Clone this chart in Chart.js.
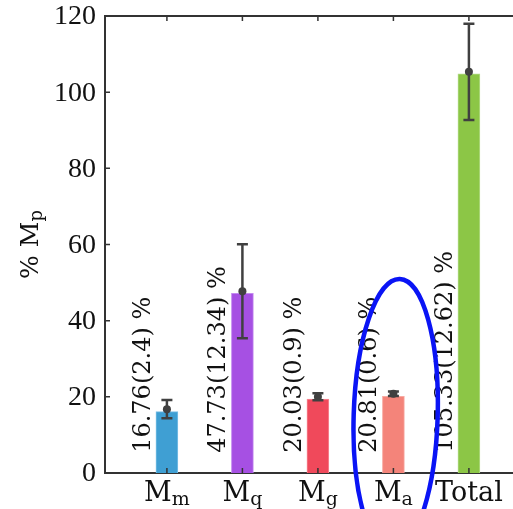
<!DOCTYPE html>
<html lang="en">
<head>
    <meta charset="UTF-8">
    <title>Mass fractions</title>
    <script src="https://cdn.jsdelivr.net/npm/chart.js"></script>
    <style>
        html, body { margin: 0; padding: 0; background: #fff; overflow: hidden; }
        #grafica { display: block; }
    </style>
</head>
<body>
    <canvas id="grafica" width="513" height="509"></canvas>
<script>

// categorias: [letra, subindice]
const categorias = [['M','m'], ['M','q'], ['M','g'], ['M','a'], ['Total','']];
const barras = [16.1, 47.2, 19.4, 20.1, 104.8];     // altura de cada barra
const medias = [16.76, 47.73, 20.03, 20.81, 105.33]; // punto del error
const errores = [2.4, 12.34, 0.9, 0.6, 12.62];
const etiquetas = ['16.76(2.4) %', '47.73(12.34) %', '20.03(0.9) %', '20.81(0.6) %', '105.33(12.62) %'];
const colores = ['#3f9fd3', '#a650e3', '#f0495b', '#f4847a', '#8cc646'];
const bordes = ['#7cc0e6', '#c48af0', '#f78a96', '#f8aaa2', '#b2db86'];
const ticksY = [0, 20, 40, 60, 80, 100, 120];

const fuente = "'DejaVu Serif', serif";
const fuenteNum = "'Liberation Serif', 'Times New Roman', serif";
const tinta = '#333';

const extras = {
    id: 'extras',
    afterDatasetsDraw(chart) {
        const ctx = chart.ctx;
        const x = chart.scales.x, y = chart.scales.y;
        const a = chart.chartArea;
        ctx.save();

        // borde de arriba
        ctx.strokeStyle = tinta;
        ctx.lineWidth = 2;
        ctx.beginPath();
        ctx.moveTo(a.left - 1, a.top);
        ctx.lineTo(a.right, a.top);
        ctx.stroke();

        // marcas hacia dentro
        ctx.lineWidth = 1.5;
        ctx.beginPath();
        for (const v of ticksY) {
            const py = y.getPixelForValue(v);
            ctx.moveTo(a.left, py);
            ctx.lineTo(a.left + 5, py);
        }
        categorias.forEach((c, i) => {
            const px = x.getPixelForValue(i);
            ctx.moveTo(px, a.bottom);
            ctx.lineTo(px, a.bottom - 5);
            ctx.moveTo(px, a.top);
            ctx.lineTo(px, a.top + 5);
        });
        ctx.stroke();

        // numeros del eje y
        ctx.fillStyle = '#111';
        ctx.font = '28px ' + fuenteNum;
        ctx.textAlign = 'right';
        ctx.textBaseline = 'middle';
        for (const v of ticksY) {
            ctx.fillText(String(v), a.left - 9, y.getPixelForValue(v) + 1);
        }

        // barras de error
        ctx.strokeStyle = '#404040';
        ctx.fillStyle = '#404040';
        ctx.lineWidth = 2.5;
        medias.forEach((m, i) => {
            const px = x.getPixelForValue(i);
            const top = y.getPixelForValue(m + errores[i]);
            const bot = y.getPixelForValue(m - errores[i]);
            ctx.beginPath();
            ctx.moveTo(px, top); ctx.lineTo(px, bot);
            ctx.moveTo(px - 5.5, top); ctx.lineTo(px + 5.5, top);
            ctx.moveTo(px - 5.5, bot); ctx.lineTo(px + 5.5, bot);
            ctx.stroke();
            ctx.beginPath();
            ctx.arc(px, y.getPixelForValue(m), 4, 0, Math.PI * 2);
            ctx.fill();
        });

        // textos girados
        ctx.fillStyle = '#111';
        ctx.font = '24px ' + fuente;
        ctx.textAlign = 'left';
        ctx.textBaseline = 'alphabetic';
        etiquetas.forEach((t, i) => {
            ctx.save();
            ctx.translate(x.getPixelForValue(i - 0.225), y.getPixelForValue(5.3));
            ctx.rotate(-Math.PI / 2);
            ctx.fillText(t, 0, 0);
            ctx.restore();
        });

        // etiquetas del eje x con subindice
        categorias.forEach((c, i) => {
            const px = x.getPixelForValue(i);
            ctx.font = '27px ' + fuente;
            const w1 = ctx.measureText(c[0]).width;
            ctx.font = '19px ' + fuente;
            const w2 = c[1] ? ctx.measureText(c[1]).width : 0;
            const x0 = px - (w1 + w2) / 2;
            ctx.font = '27px ' + fuente;
            ctx.fillText(c[0], x0, a.bottom + 28);
            if (c[1]) {
                ctx.font = '19px ' + fuente;
                ctx.fillText(c[1], x0 + w1, a.bottom + 32);
            }
        });

        // titulo del eje y
        ctx.save();
        ctx.translate(38, (a.top + a.bottom) / 2);
        ctx.rotate(-Math.PI / 2);
        ctx.font = '25px ' + fuente;
        const t1 = '% M';
        const wt1 = ctx.measureText(t1).width;
        ctx.font = '18px ' + fuente;
        const wt2 = ctx.measureText('p').width;
        const s0 = -(wt1 + wt2) / 2;
        ctx.font = '25px ' + fuente;
        ctx.fillText(t1, s0, 0);
        ctx.font = '18px ' + fuente;
        ctx.fillText('p', s0 + wt1, 4);
        ctx.restore();

        // ovalo azul sobre M_a
        ctx.strokeStyle = '#0a14f5';
        ctx.lineWidth = 4.5;
        ctx.beginPath();
        ctx.ellipse(x.getPixelForValue(3.03), y.getPixelForValue(15), 42, 137, 0.03, 0, Math.PI * 2);
        ctx.stroke();

        ctx.restore();
    }
};

new Chart(document.getElementById('grafica'), {
    type: 'bar',
    data: {
        datasets: [{
            data: barras.map((v, i) => ({ x: i, y: v })),
            backgroundColor: colores,
            borderColor: bordes,
            borderWidth: 1,
            barThickness: 22
        }]
    },
    options: {
        responsive: false,
        animation: false,
        layout: { padding: { top: 16, right: 0, left: 0, bottom: 0 } },
        plugins: { legend: { display: false }, tooltip: { enabled: false } },
        scales: {
            x: {
                type: 'linear',
                offset: false,
                min: -0.82,
                max: 4.584,
                ticks: { display: false },
                grid: { display: false },
                border: { display: true, color: tinta, width: 2 },
                afterFit(s) { s.height = 36; }
            },
            y: {
                min: 0,
                max: 120,
                ticks: { display: false },
                grid: { display: false, drawTicks: false },
                border: { display: true, color: tinta, width: 2 },
                afterFit(s) { s.width = 105; }
            }
        }
    },
    plugins: [extras]
});

</script>
</body>
</html>
